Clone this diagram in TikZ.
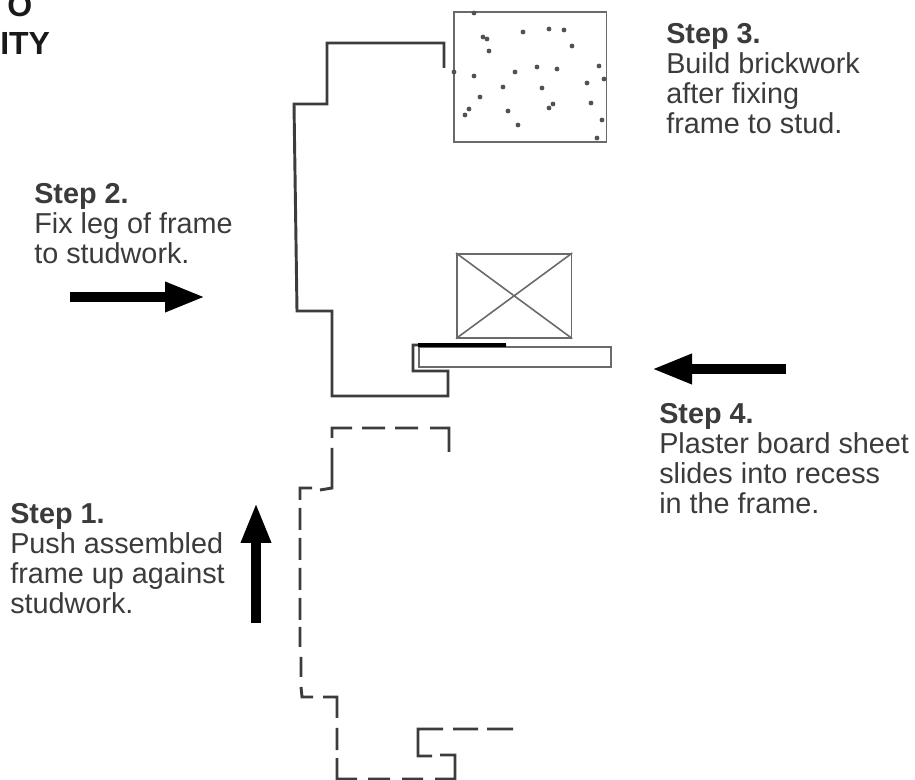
\documentclass[tikz,border=0pt]{standalone}
\usepackage{fontspec}
\setmainfont{Liberation Sans}
\usepackage{tikz}
\newcommand{\shaftwidth}{7pt}
\definecolor{myInk}{RGB}{25,25,25}
\usetikzlibrary{arrows.meta,positioning}
\tikzset{
  x=0.75pt,y=-0.75pt,
  font=\fontsize{21.6}{22.5}\selectfont,
  steplabel/.style={align=left,anchor=north west,inner sep=0,text=myInk!85},
  title/.style={anchor=base west,inner sep=0,text=myInk,font=\fontsize{24}{26}\selectfont\bfseries},
  thin box/.style={draw=myInk!65,line width=1.2pt},
  frame/.style={draw=myInk!85,line width=2.2pt,line join=miter},
  push/.style={draw=black,line width=\shaftwidth,-{Triangle[length=30pt,width=21pt]}},
  speck/.style={fill=myInk!75,circle,inner sep=0,minimum size=3.6pt},
}
\begin{document}
\begin{tikzpicture}
  \useasboundingbox (0,0) rectangle (915,780);
  \node [title] (head a) at (7,17) {O};
  \node [title] (head b) at (0,55) {ITY};
  % brickwork
  \node (brick) [thin box,anchor=north west,minimum width=114.5pt,minimum height=97.5pt,inner sep=0] at (453,11) {};
  \foreach \sx/\sy in {483/37,487/39,523/32,549/29,564/30,572/46,489/51,515/72,537/67,557/69,599/66,474/76,604/79,587/83,503/87,542/88,480/97,469/109,465/115,508/111,553/104,549/108,591/103,518/125,602/120,597/138,474/13,454/72}
    \node [speck] at (\sx,\sy) {};
  % stud
  \node (stud) [thin box,anchor=north west,minimum width=86pt,minimum height=63pt,inner sep=0] at (456,253) {};
  \draw [thin box] (stud.north west) -- (stud.south east) (stud.north east) -- (stud.south west);
  % plaster board
  \node (board) [thin box,anchor=north west,minimum width=144pt,minimum height=15pt,inner sep=0] at (418,346) {};
  % fixed frame
  \coordinate (top) at (444,68);
  \draw [frame] (top) -- (444,43) -- (327,43) -- (327,104) -- (294,104) -- (297,311) -- (332,311) -- (332,396) -- (448,396) -- (448,371) -- (413,371) -- (413,345) -- (506,345);
  \draw [frame,draw=black,line width=2.6pt] (418,345) -- (506,345);
  % pushed frame, dash by dash
  \draw [frame]
    (449,452) -- (449,428) -- (430,428)
    (418,428) -- (395,428) (385,428) -- (362,428)
    (352,428) -- (332,428) -- (332,438)
    (332,448) -- (332,488) -- (320,490)
    (312,488) -- (300,488) -- (300,500)
    (300,508) -- (300,530) (300,538) -- (300,560)
    (300,568) -- (300,590) (300,598) -- (300,620)
    (300,627) -- (300,647) (301,657) -- (301,677)
    (301,687) -- (302,697) -- (313,697)
    (323,697) -- (337,697) -- (337,718)
    (337,728) -- (337,750)
    (337,758) -- (337,779) -- (357,779)
    (368,779) -- (390,779) (402,779) -- (423,779)
    (435,779) -- (455,779) -- (455,755) -- (440,755)
    (432,756) -- (418,756) -- (418,729) -- (443,729)
    (453,729) -- (478,729) (487,729) -- (513,729);
  % arrows
  \coordinate (a2s) at (70,297);
  \coordinate (a2e) at (205,297);
  \coordinate (a4s) at (786,369);
  \coordinate (a4e) at (652,369);
  \coordinate (a1s) at (256,623);
  \coordinate (a1e) at (256,503);
  \path [push] (a2s) -- (a2e);
  \path [push] (a4s) -- (a4e);
  \path [push] (a1s) -- (a1e);
  % labels
  \node (step1) [steplabel] at (10,503) {\textbf{Step 1.}\\Push assembled\\frame up against\\studwork.};
  \node (step2) [steplabel] at (34,183) {\textbf{Step 2.}\\Fix leg of frame\\to studwork.};
  \node (step3) [steplabel] at (666,23) {\textbf{Step 3.}\\Build brickwork\\after fixing\\frame to stud.};
  \node (step4) [steplabel] at (659,403) {\textbf{Step 4.}\\Plaster board sheet\\slides into recess\\in the frame.};
\end{tikzpicture}
\end{document}
